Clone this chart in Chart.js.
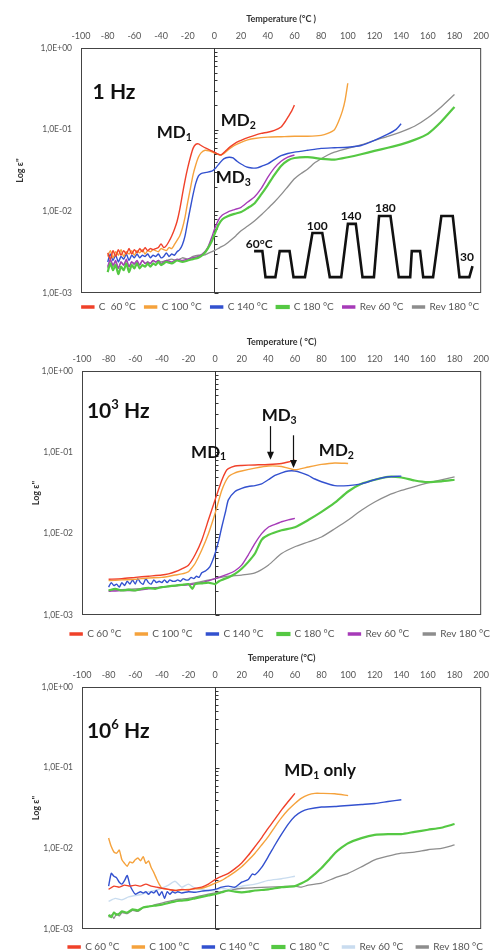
<!DOCTYPE html>
<html>
<head>
<meta charset="utf-8">
<script src="https://cdn.jsdelivr.net/npm/chart.js@4.4.1/dist/chart.umd.min.js"></script>
<style>
  html, body { margin: 0; padding: 0; background: #fff; width: 496px; height: 951px; overflow: hidden; }
  .panel { position: absolute; left: 0; width: 496px; }
</style>
</head>
<body>
<div class="panel" style="top:0;height:322px"><canvas id="hz1"></canvas></div>
<div class="panel" style="top:322px;height:327px"><canvas id="hz3"></canvas></div>
<div class="panel" style="top:644px;height:318px"><canvas id="hz6"></canvas></div>
<script>
// ---- data: [temperature °C, log e''] ----
const yTickValues = [1e-3, 1e-2, 1e-1, 1];
const yTickLabels = ['1,0E-03', '1,0E-02', '1,0E-01', '1,0E+00'];

// 1 Hz
const hz1C60 = [[-80,3.1e-3],[-78,2.6e-3],[-76,3.3e-3],[-74,2.8e-3],[-72,3.4e-3],[-70,2.9e-3],[-68,3.3e-3],[-66,3.0e-3],[-64,3.5e-3],[-62,3.0e-3],[-60,3.4e-3],[-58,3.1e-3],[-56,3.5e-3],[-54,3.2e-3],[-52,3.6e-3],[-50,3.3e-3],[-48,3.5e-3],[-46,3.4e-3],[-44,3.5e-3],[-42,3.6e-3],[-40,4.0e-3],[-38,3.6e-3],[-36,3.8e-3],[-34,4.3e-3],[-32,5.0e-3],[-30,6.0e-3],[-28,7.5e-3],[-26,1.05e-2],[-24,1.6e-2],[-22,2.4e-2],[-20,3.4e-2],[-18,4.6e-2],[-16,5.9e-2],[-14,6.6e-2],[-12,6.7e-2],[-10,6.4e-2],[-6,5.9e-2],[-2,5.5e-2],[2,5.1e-2],[5,4.9e-2],[8,5.4e-2],[12,6.2e-2],[16,6.9e-2],[20,7.4e-2],[25,8.0e-2],[30,8.5e-2],[35,9.0e-2],[40,9.3e-2],[45,9.8e-2],[50,0.108],[53,0.125],[56,0.15],[58,0.17],[60,0.20]];
const hz1C100 = [[-80,2.8e-3],[-78,3.3e-3],[-76,2.7e-3],[-74,3.2e-3],[-72,2.9e-3],[-70,3.4e-3],[-68,2.8e-3],[-66,3.2e-3],[-64,3.0e-3],[-62,3.3e-3],[-60,2.9e-3],[-58,3.3e-3],[-56,3.1e-3],[-54,3.4e-3],[-52,3.0e-3],[-50,3.3e-3],[-48,3.2e-3],[-46,3.4e-3],[-44,3.3e-3],[-42,3.2e-3],[-40,3.5e-3],[-38,3.4e-3],[-36,3.3e-3],[-34,3.6e-3],[-32,3.5e-3],[-30,3.9e-3],[-28,4.4e-3],[-26,5.0e-3],[-24,6.2e-3],[-22,8.5e-3],[-20,1.3e-2],[-18,1.9e-2],[-16,2.8e-2],[-14,3.7e-2],[-12,4.6e-2],[-10,5.2e-2],[-7,5.6e-2],[-4,5.5e-2],[0,5.2e-2],[4,4.9e-2],[7,5.1e-2],[10,5.6e-2],[15,6.4e-2],[20,7.0e-2],[25,7.5e-2],[30,7.8e-2],[40,8.1e-2],[50,8.2e-2],[60,8.3e-2],[70,8.3e-2],[80,8.5e-2],[85,9.0e-2],[90,0.10],[93,0.125],[96,0.17],[98,0.23],[100,0.37]];
const hz1C140 = [[-80,2.4e-3],[-78,3.0e-3],[-76,2.5e-3],[-74,2.9e-3],[-72,2.4e-3],[-70,2.8e-3],[-68,2.6e-3],[-66,3.0e-3],[-64,2.5e-3],[-62,2.9e-3],[-60,2.7e-3],[-58,3.0e-3],[-56,2.7e-3],[-54,2.9e-3],[-52,2.8e-3],[-50,3.0e-3],[-48,2.7e-3],[-46,2.9e-3],[-44,2.8e-3],[-42,3.0e-3],[-40,2.7e-3],[-38,2.8e-3],[-36,3.1e-3],[-34,2.8e-3],[-32,3.0e-3],[-30,2.9e-3],[-28,3.2e-3],[-26,3.4e-3],[-24,3.9e-3],[-22,5.0e-3],[-20,7.5e-3],[-18,1.1e-2],[-16,1.6e-2],[-14,2.2e-2],[-12,2.7e-2],[-10,2.9e-2],[-6,3.0e-2],[-2,3.1e-2],[1,3.4e-2],[4,3.9e-2],[7,4.4e-2],[11,4.6e-2],[14,4.5e-2],[17,4.1e-2],[20,3.8e-2],[24,3.5e-2],[28,3.4e-2],[32,3.4e-2],[36,3.6e-2],[40,3.8e-2],[45,4.3e-2],[50,4.8e-2],[55,5.1e-2],[60,5.3e-2],[70,5.6e-2],[80,5.9e-2],[90,6.0e-2],[100,6.1e-2],[110,6.4e-2],[120,7.4e-2],[130,8.8e-2],[136,0.10],[140,0.118]];
const hz1C180 = [[-80,1.8e-3],[-78,2.3e-3],[-76,1.9e-3],[-74,2.2e-3],[-72,1.7e-3],[-70,2.1e-3],[-68,1.9e-3],[-66,2.3e-3],[-64,1.8e-3],[-62,2.2e-3],[-60,2.0e-3],[-58,2.3e-3],[-56,2.0e-3],[-54,2.2e-3],[-52,2.1e-3],[-50,2.3e-3],[-48,2.1e-3],[-46,2.3e-3],[-44,2.2e-3],[-42,2.4e-3],[-40,2.2e-3],[-36,2.4e-3],[-32,2.3e-3],[-28,2.5e-3],[-24,2.4e-3],[-20,2.5e-3],[-16,2.6e-3],[-12,2.7e-3],[-8,3.0e-3],[-5,3.5e-3],[-2,4.3e-3],[0,5.2e-3],[3,6.8e-3],[6,8.0e-3],[10,8.7e-3],[15,9.3e-3],[20,9.8e-3],[25,1.1e-2],[30,1.25e-2],[35,1.6e-2],[40,2.1e-2],[45,2.8e-2],[50,3.6e-2],[55,4.2e-2],[60,4.5e-2],[70,4.6e-2],[80,4.4e-2],[90,4.3e-2],[100,4.6e-2],[110,5.0e-2],[120,5.5e-2],[130,6.0e-2],[140,6.6e-2],[150,7.5e-2],[160,8.9e-2],[170,0.125],[180,0.19]];
const hz1Rev60 = [[-80,2.1e-3],[-78,2.6e-3],[-76,2.2e-3],[-74,2.5e-3],[-72,2.0e-3],[-70,2.4e-3],[-68,2.2e-3],[-66,2.6e-3],[-64,2.1e-3],[-62,2.4e-3],[-60,2.3e-3],[-58,2.5e-3],[-56,2.2e-3],[-54,2.5e-3],[-52,2.3e-3],[-50,2.4e-3],[-48,2.3e-3],[-46,2.5e-3],[-44,2.4e-3],[-42,2.5e-3],[-40,2.3e-3],[-36,2.5e-3],[-32,2.4e-3],[-28,2.6e-3],[-24,2.5e-3],[-20,2.6e-3],[-16,2.7e-3],[-12,2.8e-3],[-8,3.1e-3],[-5,3.6e-3],[-2,4.8e-3],[0,6.0e-3],[3,7.8e-3],[6,9.0e-3],[10,9.8e-3],[15,1.05e-2],[20,1.12e-2],[25,1.3e-2],[30,1.5e-2],[35,1.9e-2],[40,2.6e-2],[45,3.4e-2],[50,4.1e-2],[55,4.6e-2],[60,4.9e-2]];
const hz1Rev180 = [[-80,2.0e-3],[-78,2.5e-3],[-76,2.1e-3],[-74,2.4e-3],[-72,2.0e-3],[-70,2.4e-3],[-68,2.2e-3],[-66,2.5e-3],[-64,2.1e-3],[-62,2.4e-3],[-60,2.2e-3],[-58,2.4e-3],[-56,2.2e-3],[-54,2.5e-3],[-52,2.3e-3],[-50,2.4e-3],[-48,2.3e-3],[-46,2.5e-3],[-44,2.4e-3],[-42,2.5e-3],[-40,2.4e-3],[-36,2.5e-3],[-32,2.6e-3],[-28,2.5e-3],[-24,2.7e-3],[-20,2.6e-3],[-16,2.8e-3],[-12,2.9e-3],[-8,2.9e-3],[-4,3.1e-3],[0,3.3e-3],[4,3.6e-3],[8,3.9e-3],[12,4.4e-3],[16,5.0e-3],[20,5.8e-3],[25,6.6e-3],[30,7.6e-3],[35,9.0e-3],[40,1.08e-2],[45,1.3e-2],[50,1.6e-2],[55,2.0e-2],[60,2.5e-2],[65,2.9e-2],[70,3.3e-2],[75,3.9e-2],[80,4.4e-2],[85,4.9e-2],[90,5.3e-2],[100,5.9e-2],[110,6.5e-2],[120,7.4e-2],[130,8.3e-2],[140,9.4e-2],[150,0.11],[160,0.14],[170,0.19],[180,0.27]];

// 10^3 Hz
const hz3C60 = [[-80,2.75e-3],[-70,2.8e-3],[-60,2.9e-3],[-50,3.0e-3],[-40,3.1e-3],[-35,3.2e-3],[-30,3.4e-3],[-25,3.7e-3],[-20,4.1e-3],[-15,5.5e-3],[-10,8.3e-3],[-5,1.47e-2],[0,2.6e-2],[5,4.5e-2],[8,5.8e-2],[10,6.3e-2],[15,6.8e-2],[20,6.9e-2],[30,7.0e-2],[40,7.1e-2],[50,7.3e-2],[55,7.6e-2],[60,8.0e-2]];
const hz3C100 = [[-80,2.65e-3],[-70,2.7e-3],[-60,2.75e-3],[-50,2.85e-3],[-40,2.9e-3],[-30,3.1e-3],[-25,3.2e-3],[-22,3.3e-3],[-20,3.4e-3],[-18,3.7e-3],[-15,4.3e-3],[-10,6.3e-3],[-5,1.0e-2],[0,1.77e-2],[5,3.4e-2],[10,5.0e-2],[15,5.6e-2],[20,5.9e-2],[30,6.4e-2],[40,6.8e-2],[50,6.7e-2],[60,6.1e-2],[70,6.6e-2],[80,7.1e-2],[90,7.4e-2],[100,7.3e-2]];
const hz3C140 = [[-80,2.2e-3],[-78,2.5e-3],[-76,2.3e-3],[-74,2.4e-3],[-72,2.2e-3],[-70,2.5e-3],[-68,2.3e-3],[-66,2.6e-3],[-64,2.4e-3],[-62,2.7e-3],[-60,2.4e-3],[-58,2.8e-3],[-56,2.5e-3],[-54,2.4e-3],[-52,2.8e-3],[-50,2.5e-3],[-48,2.4e-3],[-46,2.7e-3],[-44,2.5e-3],[-42,2.6e-3],[-40,2.5e-3],[-38,2.7e-3],[-36,2.5e-3],[-34,2.7e-3],[-32,2.6e-3],[-30,2.6e-3],[-28,2.7e-3],[-26,2.6e-3],[-24,2.8e-3],[-22,2.7e-3],[-20,2.7e-3],[-18,2.9e-3],[-16,2.8e-3],[-14,3.0e-3],[-12,2.9e-3],[-10,3.3e-3],[-7,3.5e-3],[-4,3.9e-3],[-2,4.6e-3],[0,5.7e-3],[3,8.5e-3],[5,1.2e-2],[8,1.9e-2],[10,2.6e-2],[15,3.3e-2],[20,3.6e-2],[25,3.8e-2],[30,3.9e-2],[35,4.1e-2],[40,4.6e-2],[45,5.2e-2],[50,5.6e-2],[55,5.9e-2],[60,5.9e-2],[65,5.6e-2],[70,5.2e-2],[75,4.7e-2],[80,4.35e-2],[90,3.9e-2],[100,3.9e-2],[110,4.1e-2],[120,4.6e-2],[130,5.0e-2],[140,5.1e-2]];
const hz3C180 = [[-80,2.0e-3],[-75,2.1e-3],[-70,2.0e-3],[-65,2.05e-3],[-60,2.0e-3],[-55,2.1e-3],[-50,2.15e-3],[-45,2.1e-3],[-40,2.2e-3],[-35,2.25e-3],[-30,2.3e-3],[-25,2.35e-3],[-20,2.4e-3],[-17,2.1e-3],[-15,2.4e-3],[-10,2.45e-3],[-5,2.5e-3],[0,2.4e-3],[3,2.6e-3],[5,2.7e-3],[10,2.9e-3],[15,3.2e-3],[20,3.7e-3],[25,4.5e-3],[30,5.7e-3],[35,8.4e-3],[40,9.6e-3],[50,1.1e-2],[60,1.2e-2],[70,1.47e-2],[80,1.85e-2],[90,2.4e-2],[100,3.3e-2],[110,4.1e-2],[120,4.6e-2],[130,5.0e-2],[140,4.9e-2],[150,4.5e-2],[160,4.3e-2],[170,4.4e-2],[180,4.6e-2]];
const hz3Rev60 = [[-80,1.95e-3],[-70,2.0e-3],[-60,2.0e-3],[-50,2.1e-3],[-40,2.2e-3],[-30,2.3e-3],[-20,2.35e-3],[-10,2.5e-3],[0,2.8e-3],[10,3.2e-3],[15,3.5e-3],[20,4.1e-3],[25,5.5e-3],[30,7.6e-3],[35,1.0e-2],[40,1.2e-2],[45,1.3e-2],[50,1.4e-2],[55,1.48e-2],[60,1.54e-2]];
const hz3Rev180 = [[-80,2.0e-3],[-60,2.1e-3],[-40,2.2e-3],[-20,2.4e-3],[0,2.8e-3],[10,3.0e-3],[20,3.1e-3],[30,3.3e-3],[40,4.1e-3],[50,5.7e-3],[60,6.9e-3],[70,7.9e-3],[80,9.1e-3],[90,1.15e-2],[100,1.47e-2],[110,1.94e-2],[120,2.45e-2],[130,2.96e-2],[140,3.4e-2],[150,3.8e-2],[160,4.2e-2],[170,4.6e-2],[180,5.0e-2]];

// 10^6 Hz
const hz6C60 = [[-80,3.1e-3],[-76,3.4e-3],[-72,3.3e-3],[-68,3.5e-3],[-64,3.4e-3],[-60,3.5e-3],[-56,3.4e-3],[-52,3.6e-3],[-48,3.4e-3],[-44,3.3e-3],[-40,3.2e-3],[-35,3.1e-3],[-30,3.0e-3],[-25,3.1e-3],[-20,3.05e-3],[-15,3.2e-3],[-10,3.3e-3],[-5,3.6e-3],[0,4.1e-3],[5,4.5e-3],[10,4.9e-3],[15,5.6e-3],[20,6.6e-3],[25,8.2e-3],[30,1.05e-2],[35,1.35e-2],[40,1.78e-2],[45,2.3e-2],[50,3.0e-2],[55,3.8e-2],[60,4.8e-2]];
const hz6C100 = [[-80,1.34e-2],[-78,1.05e-2],[-76,9.0e-3],[-74,8.7e-3],[-72,9.5e-3],[-70,7.2e-3],[-68,6.5e-3],[-66,6.0e-3],[-64,6.8e-3],[-62,6.6e-3],[-60,7.2e-3],[-58,7.6e-3],[-56,7.0e-3],[-54,7.9e-3],[-52,6.5e-3],[-50,7.0e-3],[-48,5.8e-3],[-46,5.0e-3],[-44,4.2e-3],[-42,3.6e-3],[-40,3.2e-3],[-35,3.1e-3],[-30,3.0e-3],[-25,3.05e-3],[-20,3.1e-3],[-15,3.15e-3],[-10,3.2e-3],[-5,3.4e-3],[0,3.7e-3],[5,4.0e-3],[10,4.5e-3],[15,5.1e-3],[20,5.9e-3],[25,7.1e-3],[30,8.7e-3],[35,1.1e-2],[40,1.4e-2],[45,1.85e-2],[50,2.4e-2],[55,3.0e-2],[60,3.6e-2],[65,4.2e-2],[70,4.6e-2],[75,4.8e-2],[80,4.8e-2],[90,4.75e-2],[100,4.5e-2]];
const hz6C140 = [[-80,3.4e-3],[-78,4.9e-3],[-76,4.5e-3],[-74,4.3e-3],[-72,3.8e-3],[-70,3.6e-3],[-68,4.0e-3],[-66,4.6e-3],[-64,3.5e-3],[-62,3.0e-3],[-60,2.7e-3],[-58,2.8e-3],[-56,2.9e-3],[-54,2.8e-3],[-52,2.9e-3],[-50,2.7e-3],[-48,2.9e-3],[-46,2.8e-3],[-44,3.0e-3],[-42,2.6e-3],[-40,2.9e-3],[-38,2.4e-3],[-36,2.9e-3],[-34,2.7e-3],[-32,2.9e-3],[-30,2.8e-3],[-28,2.9e-3],[-25,2.8e-3],[-20,2.9e-3],[-15,2.85e-3],[-10,2.95e-3],[-5,3.0e-3],[0,3.1e-3],[5,3.3e-3],[10,3.4e-3],[15,3.3e-3],[20,3.8e-3],[25,4.1e-3],[28,4.8e-3],[30,4.7e-3],[35,5.8e-3],[40,7.9e-3],[45,1.1e-2],[50,1.5e-2],[55,2.0e-2],[60,2.5e-2],[65,2.85e-2],[70,3.06e-2],[80,3.25e-2],[90,3.3e-2],[100,3.4e-2],[110,3.5e-2],[120,3.6e-2],[130,3.8e-2],[140,4.0e-2]];
const hz6C180 = [[-80,1.5e-3],[-78,1.4e-3],[-76,1.6e-3],[-74,1.5e-3],[-72,1.55e-3],[-70,1.65e-3],[-66,1.6e-3],[-62,1.75e-3],[-58,1.7e-3],[-54,1.85e-3],[-50,1.9e-3],[-45,1.95e-3],[-40,2.0e-3],[-35,2.1e-3],[-30,2.2e-3],[-25,2.25e-3],[-20,2.3e-3],[-15,2.4e-3],[-10,2.5e-3],[-5,2.6e-3],[0,2.7e-3],[5,2.85e-3],[10,3.0e-3],[15,2.9e-3],[20,2.85e-3],[25,2.9e-3],[30,3.0e-3],[40,3.1e-3],[50,3.3e-3],[60,3.4e-3],[65,3.7e-3],[70,4.1e-3],[75,4.8e-3],[80,5.7e-3],[85,7.0e-3],[90,8.7e-3],[95,1.02e-2],[100,1.16e-2],[110,1.34e-2],[120,1.47e-2],[130,1.5e-2],[140,1.5e-2],[150,1.6e-2],[160,1.7e-2],[170,1.8e-2],[180,2.0e-2]];
const hz6Rev60 = [[-80,2.2e-3],[-75,2.4e-3],[-70,2.3e-3],[-65,2.5e-3],[-60,2.6e-3],[-55,2.7e-3],[-50,2.9e-3],[-45,3.0e-3],[-40,3.2e-3],[-35,3.5e-3],[-30,3.9e-3],[-25,3.3e-3],[-20,3.6e-3],[-15,3.2e-3],[-10,3.1e-3],[-5,3.0e-3],[0,3.0e-3],[5,3.2e-3],[10,3.1e-3],[20,3.4e-3],[30,3.6e-3],[40,4.0e-3],[50,4.2e-3],[60,4.5e-3]];
const hz6Rev180 = [[-80,1.4e-3],[-78,1.5e-3],[-76,1.35e-3],[-74,1.55e-3],[-72,1.45e-3],[-70,1.6e-3],[-66,1.55e-3],[-62,1.7e-3],[-58,1.65e-3],[-54,1.85e-3],[-50,1.9e-3],[-45,2.0e-3],[-40,2.1e-3],[-35,2.2e-3],[-30,2.3e-3],[-25,2.35e-3],[-20,2.4e-3],[-10,2.6e-3],[0,2.8e-3],[10,3.0e-3],[20,3.2e-3],[30,3.25e-3],[40,3.3e-3],[50,3.35e-3],[60,3.4e-3],[65,3.3e-3],[70,3.5e-3],[80,3.7e-3],[90,4.3e-3],[100,4.9e-3],[110,5.9e-3],[120,7.2e-3],[130,8.0e-3],[140,8.7e-3],[150,9.0e-3],[160,9.6e-3],[170,1.0e-2],[180,1.1e-2]];

// thermal-cycle inset of the 1 Hz panel (time units, level units)
const insetTime  = [0,2.1,2.9,5.4,6.5,9,10,12.9,14.8,17.3,19.2,22.1,23.8,25.8,27.5,30.4,31.7,34.6,36.7,39.6,40,42.1,42.9,45.4,47.5,50.4,52.1,54.6,55.4];
const insetLevel = [17.1,17.1,6.5,6.5,17.1,17.1,6.5,6.5,24.5,24.5,6.5,6.5,28.2,28.2,6.5,6.5,31.4,31.4,6.5,6.5,17.1,17.1,6.5,6.5,31.4,31.4,6.5,6.5,11];
const insetLabels = ['60°C', '100', '140', '180', '30'];
const insetLabelTime = [1.3, 16, 24.6, 33.3, 54];
const insetLabelLevel = [20, 27.3, 31.4, 34.7, 14.7];

const labels1 = ['C  60 °C', 'C 100 °C', 'C 140 °C', 'C 180 °C', 'Rev 60 °C', 'Rev 180 °C'];
const labels36 = ['C 60 °C', 'C 100 °C', 'C 140 °C', 'C 180 °C', 'Rev 60 °C', 'Rev 180 °C'];
const colors13 = ['#f0412a', '#f5a23c', '#3351cf', '#55c843', '#a63bb8', '#8d8d8d'];
const colors6  = ['#f0412a', '#f5a23c', '#3351cf', '#55c843', '#c9dcef', '#8d8d8d'];
const widths = [1.4, 1.4, 1.4, 2.2, 1.4, 1.3];

const FONT = 'Lato, "Open Sans", sans-serif';
const toXY = arr => arr.map(p => ({ x: p[0], y: p[1] }));

// frame, the vertical axis at 0 °C, and text annotations
const framePlugin = {
  id: 'frame',
  afterLayout(chart, args, opts) {
    // the original legends sit right of centre, under the plot
    const lg = chart.legend;
    if (lg && opts.legendShift) { lg.left += opts.legendShift; lg.right += opts.legendShift; }
  },
  beforeDatasetsDraw(chart) {
    const { ctx, chartArea: a, scales } = chart;
    const x0 = Math.round(scales.x.getPixelForValue(0)) + 0.5;
    ctx.save();
    ctx.strokeStyle = '#444';
    ctx.lineWidth = 1;
    ctx.strokeRect(a.left + 0.5, a.top + 0.5, a.width - 1, a.height - 1);
    ctx.strokeStyle = '#333';
    ctx.beginPath();
    ctx.moveTo(x0, a.top);
    ctx.lineTo(x0, a.bottom);
    for (let e = -3; e < 0; e++) {
      for (let m = 1; m < 10; m++) {
        const py = Math.round(scales.y.getPixelForValue(m * Math.pow(10, e))) + 0.5;
        ctx.moveTo(x0, py);
        ctx.lineTo(x0 + (m === 1 ? 4 : 3), py);
      }
    }
    ctx.stroke();
    ctx.restore();
  },
  afterDatasetsDraw(chart, args, opts) {
    const { ctx, scales } = chart;
    ctx.save();
    ctx.fillStyle = '#111';
    ctx.textBaseline = 'middle';
    (opts.notes || []).forEach(n => {
      const sx = scales[n.xAxis || 'x'], sy = scales[n.yAxis || 'y'];
      let x = sx.getPixelForValue(n.x);
      const y = sy.getPixelForValue(n.y);
      if (n.center) {
        let w = 0;
        n.parts.forEach(p => { ctx.font = 'bold ' + (p[1] ? n.size * 0.62 : n.size) + 'px ' + FONT; w += ctx.measureText(p[0]).width; });
        x -= w / 2;
      }
      n.parts.forEach(p => {
        const s = p[1] ? n.size * 0.62 : n.size;
        const dy = p[1] === 'sub' ? n.size * 0.25 : p[1] === 'sup' ? -n.size * 0.3 : 0;
        ctx.font = 'bold ' + s + 'px ' + FONT;
        ctx.textAlign = 'left';
        ctx.fillText(p[0], x, y + dy);
        x += ctx.measureText(p[0]).width;
      });
    });
    ctx.strokeStyle = '#111';
    ctx.lineWidth = 1.2;
    (opts.arrows || []).forEach(ar => {
      const x = Math.round(scales.x.getPixelForValue(ar.x)) + 0.5;
      const y1 = scales.y.getPixelForValue(ar.from), y2 = scales.y.getPixelForValue(ar.to);
      ctx.beginPath();
      ctx.moveTo(x, y1);
      ctx.lineTo(x, y2 - 2);
      ctx.stroke();
      ctx.beginPath();
      ctx.moveTo(x, y2);
      ctx.lineTo(x - 3.5, y2 - 8);
      ctx.lineTo(x + 3.5, y2 - 8);
      ctx.closePath();
      ctx.fill();
    });
    ctx.restore();
  }
};

function makePanel(id, series, labels, colors, xTitle, pad, yTitleX, legendPad, legendShift, notes, arrows, extra) {
  const datasets = series.map((s, i) => ({
    label: labels[i],
    data: toXY(s),
    borderColor: colors[i],
    backgroundColor: colors[i],
    borderWidth: widths[i],
    pointRadius: 0,
    tension: 0.2
  }));
  const scales = {
    x: {
      type: 'linear', position: 'top', min: -100, max: 200,
      grid: { display: false, drawTicks: false },
      border: { display: false },
      ticks: { stepSize: 20, padding: 7, font: { family: FONT, size: 9 }, color: '#555' },
      title: { display: true, text: xTitle, font: { family: FONT, size: 9, weight: 'bold' }, color: '#333', padding: { top: 4, bottom: 4 } },
      afterFit: s => { s.height = 38; }
    },
    y: {
      type: 'logarithmic', min: 1e-3, max: 1,
      grid: { display: false, drawTicks: false },
      border: { display: false },
      afterBuildTicks: s => { s.ticks = yTickValues.map(v => ({ value: v })); },
      ticks: { padding: 9, autoSkip: false, font: { family: FONT, size: 8.5 }, color: '#555',
               callback: (v, i) => yTickLabels[i] },
      title: { display: true, text: "Log ε''", font: { family: FONT, size: 9, weight: 'bold' }, color: '#333',
               padding: { top: yTitleX - 5.4, bottom: 0 } },
      afterFit: s => { s.width = pad.left; }
    }
  };
  if (extra) {
    datasets.push(extra.dataset);
    Object.assign(scales, extra.scales);
  }
  return new Chart(document.getElementById(id), {
    type: 'line',
    data: { datasets },
    options: {
      responsive: true,
      maintainAspectRatio: false,
      animation: false,
      layout: { padding: { top: pad.top, right: pad.right, left: 0, bottom: 0 } },
      scales,
      plugins: {
        tooltip: { enabled: false },
        legend: {
          position: 'bottom',
          labels: {
            filter: item => item.datasetIndex < 6,
            font: { family: FONT, size: 10 }, color: '#555',
            boxWidth: 12, boxHeight: 2, padding: legendPad
          }
        },
        frame: { notes, arrows, legendShift }
      }
    },
    plugins: [framePlugin]
  });
}

document.addEventListener('DOMContentLoaded', () => {
  // 1 Hz
  const insetNotes = insetLabels.map((t, i) => ({ x: insetLabelTime[i], y: insetLabelLevel[i], xAxis: 'xi', yAxis: 'yi', center: true, size: 12, parts: [[t]] }));
  makePanel('hz1', [hz1C60, hz1C100, hz1C140, hz1C180, hz1Rev60, hz1Rev180], labels1, colors13,
    'Temperature (°C )', { top: 10, left: 81, right: 9 }, 20, 9, 37,
    [
      { x: -91.3, y: 0.29, size: 21, parts: [['1 Hz']] },
      { x: -43.3, y: 0.091, size: 17, parts: [['MD'], ['1', 'sub']] },
      { x: 4.7, y: 0.128, size: 17, parts: [['MD'], ['2', 'sub']] },
      { x: 1, y: 0.0256, size: 17, parts: [['MD'], ['3', 'sub']] }
    ].concat(insetNotes), [],
    {
      dataset: {
        label: '', data: insetTime.map((t, i) => ({ x: t, y: insetLevel[i] })),
        xAxisID: 'xi', yAxisID: 'yi', borderColor: '#111', backgroundColor: '#111',
        borderWidth: 2.6, pointRadius: 0, tension: 0
      },
      scales: {
        xi: { type: 'linear', display: false, min: -43.9, max: 57.6 },
        yi: { type: 'linear', display: false, min: 0, max: 100 }
      }
    });

  // 10^3 Hz
  makePanel('hz3', [hz3C60, hz3C100, hz3C140, hz3C180, hz3Rev60, hz3Rev180], labels36, colors13,
    'Temperature ( °C)', { top: 11, left: 82, right: 8 }, 36, 14, 36,
    [
      { x: -96.3, y: 0.32, size: 21, parts: [['10'], ['3', 'sup'], [' Hz']] },
      { x: -18, y: 0.1, size: 17, parts: [['MD'], ['1', 'sub']] },
      { x: 35, y: 0.28, size: 17, parts: [['MD'], ['3', 'sub']] },
      { x: 78, y: 0.104, size: 17, parts: [['MD'], ['2', 'sub']] }
    ],
    [ { x: 41.2, from: 0.21, to: 0.081 }, { x: 58.9, from: 0.162, to: 0.064 } ]);

  // 10^6 Hz
  makePanel('hz6', [hz6C60, hz6C100, hz6C140, hz6C180, hz6Rev60, hz6Rev180], labels36, colors6,
    'Temperature (°C)', { top: 5, left: 82, right: 9 }, 36, 13, 32,
    [
      { x: -96.3, y: 0.285, size: 21, parts: [['10'], ['6', 'sup'], [' Hz']] },
      { x: 52, y: 0.091, size: 17, parts: [['MD'], ['1', 'sub'], [' only']] }
    ], []);
});
</script>
</body>
</html>
